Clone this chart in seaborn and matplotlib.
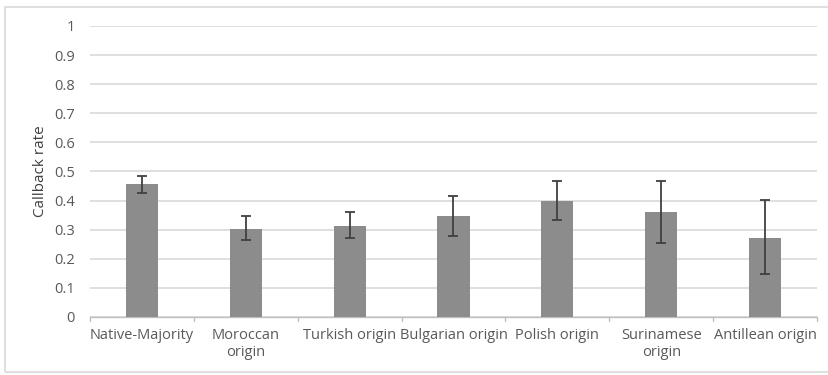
import matplotlib
matplotlib.use("Agg")
import matplotlib.pyplot as plt
import seaborn as sns
import pandas as pd
import numpy as np
from matplotlib.patches import Rectangle

categories = ["Native-Majority", "Moroccan\norigin", "Turkish origin", "Bulgarian origin",
              "Polish origin", "Surinamese\norigin", "Antillean origin"]
callback_rate = [0.456, 0.302, 0.314, 0.346, 0.400, 0.361, 0.271]
ci_upper = [0.486, 0.348, 0.360, 0.416, 0.467, 0.467, 0.401]
ci_lower = [0.426, 0.264, 0.271, 0.279, 0.332, 0.255, 0.147]
y_ticks = [0, 0.1, 0.2, 0.3, 0.4, 0.5, 0.6, 0.7, 0.8, 0.9, 1]

sns.set_theme(style="white")
plt.rcParams["font.family"] = ["Open Sans", "DejaVu Sans"]

text_col = "#595959"
grid_col = "#d9d9d9"

df = pd.DataFrame({"group": categories, "rate": callback_rate})

fig = plt.figure(figsize=(8.29, 3.75), dpi=100)
ax = fig.add_axes([90 / 829, (375 - 317) / 375, (817 - 90) / 829, (317 - 26) / 375])

sns.barplot(data=df, x="group", y="rate", color="#8c8c8c", saturation=1,
            width=0.31, ax=ax, zorder=3, errorbar=None)
for p in ax.patches:
    p.set_edgecolor("none")

x = np.arange(len(categories))
rate = np.array(callback_rate)
yerr = np.vstack([rate - np.array(ci_lower), np.array(ci_upper) - rate])
ax.errorbar(x, rate, yerr=yerr, fmt="none", ecolor="#404040", elinewidth=1.3,
            capsize=3.5, capthick=1.3, zorder=4)

ax.set_ylim(0, 1)
ax.set_xlim(-0.5, len(categories) - 0.5)
ax.set_yticks(y_ticks)
ax.set_yticklabels([f"{v:g}" for v in y_ticks])
ax.yaxis.grid(True, color=grid_col, linewidth=1.2, zorder=0)
ax.set_axisbelow(True)

for side in ["top", "right", "left"]:
    ax.spines[side].set_visible(False)
ax.spines["bottom"].set_color("#bfbfbf")
ax.spines["bottom"].set_linewidth(1.0)

ax.tick_params(axis="y", length=0, pad=11, labelsize=10.5, labelcolor=text_col)
ax.tick_params(axis="x", length=0, pad=8, labelsize=10.5, labelcolor=text_col)

# category boundary tick marks under the axis line
for b in np.arange(-0.5, len(categories), 1.0):
    ax.plot([b, b], [0, -0.015], color="#bfbfbf", linewidth=1.0, clip_on=False,
            transform=ax.transData)

ax.set_xlabel("")
ax.set_ylabel("Callback rate", fontsize=11, color="#404040", labelpad=4)

# outer chart frame
fig.patches.append(Rectangle((5 / 829, 3 / 375), 830 / 829, 365 / 375,
                             transform=fig.transFigure, fill=False,
                             edgecolor="#d9d9d9", linewidth=1.2))

fig.savefig("out.png", dpi=100)
